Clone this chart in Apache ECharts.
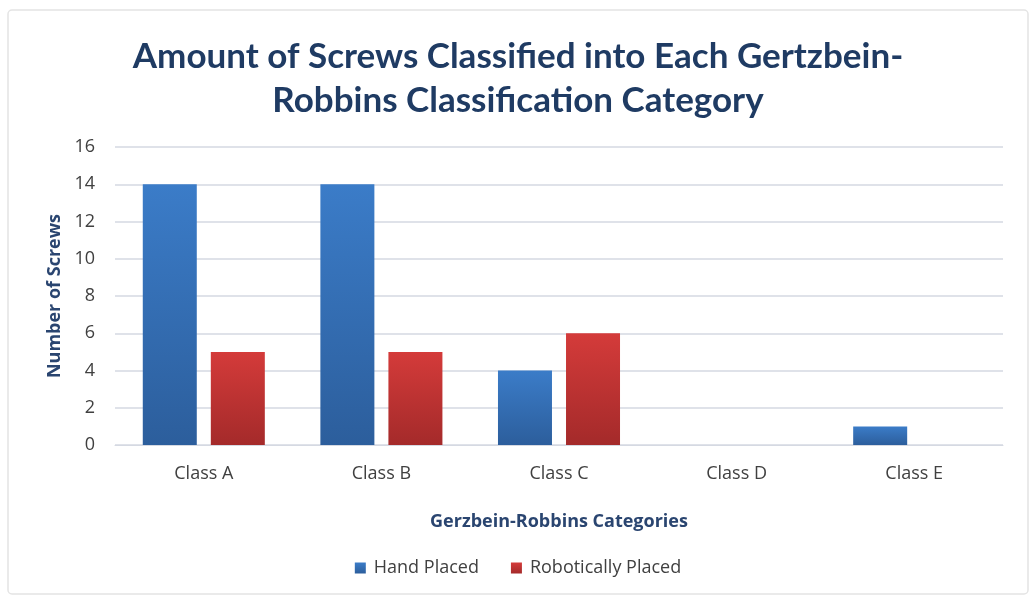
<!DOCTYPE html>
<html><head><meta charset="utf-8">
<script src="https://cdn.jsdelivr.net/npm/echarts@6/dist/echarts.min.js"></script>
<style>html,body{margin:0;padding:0;background:#fff}#c{width:1036px;height:599px}</style>
</head><body><div id="c"></div>
<script>
const categories = ['Class A','Class B','Class C','Class D','Class E'];
const handPlaced = [14, 14, 4, 0, 1];
const roboticallyPlaced = [5, 5, 6, 0, 0];
const seriesNames = ['Hand Placed', 'Robotically Placed'];

const chart = echarts.init(document.getElementById('c'));
const grad = (a, b) => new echarts.graphic.LinearGradient(0, 0, 0, 1, [{offset: 0, color: a}, {offset: 1, color: b}]);
chart.setOption({
  backgroundColor: '#fff',
  title: {
    text: 'Amount of Screws Classified into Each Gertzbein-\nRobbins Classification Category',
    left: 'center', top: 30,
    textStyle: {fontFamily: 'Lato', fontWeight: 'bold', fontSize: 35, color: '#1f3b63', lineHeight: 44}
  },
  legend: {
    data: seriesNames, bottom: 17, left: 'center', itemWidth: 11, itemHeight: 11, itemGap: 32,
    icon: 'rect',
    textStyle: {fontFamily: 'Open Sans', fontSize: 18, color: '#404040', padding: [0, 0, 0, 3]}
  },
  grid: {left: 115, right: 33, top: 147, bottom: 154, containLabel: false},
  xAxis: {
    type: 'category', data: categories,
    name: 'Gerzbein-Robbins Categories', nameLocation: 'middle', nameGap: 68,
    nameTextStyle: {fontFamily: 'Open Sans', fontWeight: 'bold', fontSize: 18, color: '#2a4570'},
    axisLine: {lineStyle: {color: '#d5d9e2'}}, axisTick: {show: false},
    axisLabel: {fontFamily: 'Open Sans', fontSize: 18, color: '#404040', margin: 20}
  },
  yAxis: {
    type: 'value', min: 0, max: 16, interval: 2,
    name: 'Number of Screws', nameLocation: 'middle', nameGap: 50, nameRotate: 90,
    nameTextStyle: {fontFamily: 'Open Sans', fontWeight: 'bold', fontSize: 18, color: '#2a4570'},
    axisLine: {show: false}, axisTick: {show: false},
    axisLabel: {fontFamily: 'Open Sans', fontSize: 18, color: '#404040', margin: 20},
    splitLine: {lineStyle: {color: '#d5d9e2', width: 1.5}}
  },
  series: [
    {name: seriesNames[0], type: 'bar', data: handPlaced, barWidth: 54, barGap: '26%',
     itemStyle: {color: grad('#3b7cc8', '#2c5e9c')}},
    {name: seriesNames[1], type: 'bar', data: roboticallyPlaced, barWidth: 54,
     itemStyle: {color: grad('#d43b3a', '#a42a2a')}}
  ],
  graphic: [{type: 'rect', shape: {x: 8, y: 10, width: 1020, height: 584, r: 4},
    style: {fill: 'none', stroke: '#e4e4e4', lineWidth: 1.5}, silent: true}]
});
</script></body></html>
